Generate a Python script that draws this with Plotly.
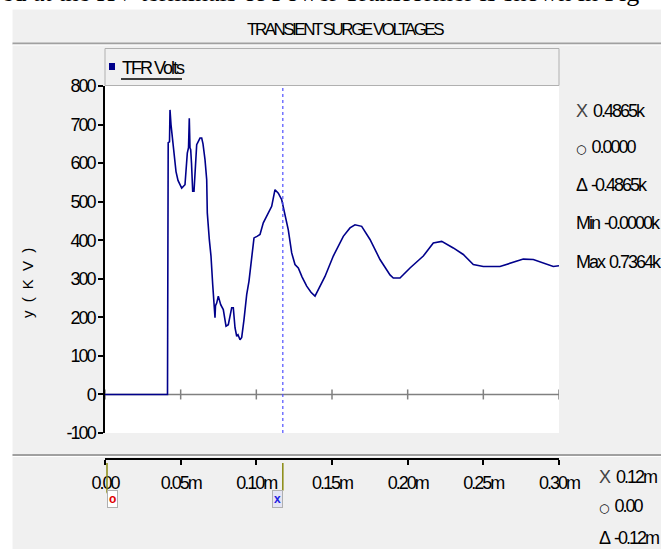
import plotly.graph_objects as go

# ---------------- data ----------------
time_ms = [0.0, 0.04130, 0.04143, 0.04176, 0.04262, 0.04295, 0.04361, 0.04407, 0.04513,
           0.04692, 0.04824, 0.05068, 0.05286, 0.05438, 0.05518, 0.05570, 0.05617, 0.05663,
           0.05716, 0.05795, 0.05881, 0.05947, 0.06059, 0.06278, 0.06390, 0.06476, 0.06608,
           0.06720, 0.06760, 0.06892, 0.07004, 0.07117, 0.07203, 0.07269, 0.07302, 0.07381,
           0.07487, 0.07645, 0.07817, 0.07996, 0.08148, 0.08372, 0.08478, 0.08590, 0.08703,
           0.08789, 0.08921, 0.09033, 0.09185, 0.09363, 0.09515, 0.09694, 0.09846, 0.10044,
           0.10242, 0.10460, 0.10791, 0.11015, 0.11233, 0.11452, 0.11676, 0.11894, 0.12112,
           0.12337, 0.12555, 0.12773, 0.13018, 0.13328, 0.13612, 0.13877, 0.14207, 0.14537,
           0.15086, 0.15747, 0.16189, 0.16520, 0.16962, 0.17511, 0.18172, 0.18833, 0.19051,
           0.19493, 0.20154, 0.21033, 0.21694, 0.22249, 0.23015, 0.23676, 0.24337, 0.24998,
           0.26101, 0.26762, 0.27641, 0.28302, 0.28963, 0.29623, 0.30]
volts_kv = [0, 0, 194, 653, 655, 738, 700, 682, 643,
            578, 555, 535, 544, 626, 640, 716, 640, 635,
            600, 527, 527, 575, 648, 665, 665, 650, 609,
            557, 471, 402, 359, 285, 237, 199, 230, 237,
            255, 233, 220, 177, 181, 225, 225, 173, 151,
            155, 142, 148, 194, 259, 294, 350, 406, 410,
            415, 445, 471, 488, 531, 522, 505, 462, 427,
            367, 337, 328, 305, 281, 265, 255, 280, 306,
            359, 410, 432, 440, 436, 402, 350, 310, 302,
            302, 328, 359, 393, 397, 380, 363, 337, 332,
            332, 341, 351, 350, 341, 332, 334]

x_tick_vals = [0.0, 0.05, 0.10, 0.15, 0.20, 0.25, 0.30]
x_tick_text = ["0.00", "0.05m", "0.10m", "0.15m", "0.20m", "0.25m", "0.30m"]
y_tick_vals = [-100, 0, 100, 200, 300, 400, 500, 600, 700, 800]
y_tick_text = ["-100", "0", "100", "200", "300", "400", "500", "600", "700", "800"]

cursor_x = 0.1175
cursor_o = 0.0
title_text = "TRANSIENT SURGE VOLTAGES"
series_name = "TFR Volts"
y_label = "y ( K V )"
readout_y_sym = ["X", "\u25cb", "\u0394", "Min", "Max"]
readout_y_val = ["0.4865k", "0.0000", "-0.4865k", "-0.0000k", "0.7364k"]
readout_x_sym = ["X", "\u25cb", "\u0394"]
readout_x_val = ["0.12m", "0.00", "-0.12m"]
doc_text = "ed at the HV terminals of Power Transformer is shown in Fig"

# ---------------- helpers ----------------
W, H = 661, 549
FONT = "Liberation Sans, Arial, sans-serif"


def px(p):
    return p / W


def py(p):
    return 1 - p / H


def tight(s, ls=-2):
    return '<span style="letter-spacing:%spx">%s</span>' % (ls, s)


def sym(s):
    if s == "\u25cb":
        return '<span style="font-family:DejaVu Sans;font-size:12px">\u25cb</span>'
    if s == "X":
        return '<span style="color:#444444">X</span>'
    return tight(s)


PANEL = "#f0f0f0"
shapes = []
annotations = []

# white document margins (top strip and left strip)
shapes.append(dict(type="rect", xref="paper", yref="paper", x0=0, x1=1, y0=py(9.5), y1=1,
                   fillcolor="white", line=dict(width=0), layer="below"))
shapes.append(dict(type="rect", xref="paper", yref="paper", x0=0, x1=px(12.5), y0=0, y1=1,
                   fillcolor="white", line=dict(width=0), layer="below"))

# separators
for yy in (43.5, 455):
    shapes.append(dict(type="line", xref="paper", yref="paper", x0=px(12.5), x1=1,
                       y0=py(yy), y1=py(yy), line=dict(color="#a0a0a0", width=2)))
    shapes.append(dict(type="line", xref="paper", yref="paper", x0=px(12.5), x1=1,
                       y0=py(yy + 1.5), y1=py(yy + 1.5), line=dict(color="#ffffff", width=1)))

# legend box
shapes.append(dict(type="rect", xref="paper", yref="paper", x0=px(105), x1=px(559),
                   y0=py(85.5), y1=py(48.5), fillcolor=PANEL,
                   line=dict(color="#b0b0b0", width=1)))
shapes.append(dict(type="rect", xref="paper", yref="paper", x0=px(109), x1=px(115),
                   y0=py(70), y1=py(63), fillcolor="#00008b", line=dict(width=0)))
shapes.append(dict(type="line", xref="paper", yref="paper", x0=px(121), x1=px(182),
                   y0=py(79), y1=py(79), line=dict(color="black", width=1.5)))
annotations.append(dict(text=tight(series_name), xref="paper", yref="paper", x=px(120), y=py(67.5),
                        xanchor="left", yanchor="middle", showarrow=False,
                        font=dict(family=FONT, size=18, color="black")))

# zero reference line with ticks
shapes.append(dict(type="line", xref="x", yref="y", x0=0, x1=0.3, y0=0, y1=0,
                   line=dict(color="#808080", width=1.5), layer="below"))
for tv in x_tick_vals:
    shapes.append(dict(type="line", xref="x", yref="y", x0=tv, x1=tv, y0=-13, y1=13,
                       line=dict(color="#808080", width=1.5), layer="below"))

# cursor dotted line
shapes.append(dict(type="line", xref="x", yref="y", x0=cursor_x, x1=cursor_x, y0=-100, y1=800,
                   line=dict(color="#5050ff", width=1.2, dash="dot")))

# cursor markers below the x axis
OLIVE = "#8a8a10"
shapes.append(dict(type="path", xref="x", yref="paper", xsizemode="pixel", xanchor=cursor_o,
                   path="M 2 %f L 2 %f Q 3 %f 12 %f" % (py(463), py(492), py(498), py(498)),
                   line=dict(color=OLIVE, width=1.5)))
shapes.append(dict(type="path", xref="x", yref="paper", xsizemode="pixel", xanchor=cursor_x,
                   path="M 0 %f L 0 %f L -7 %f" % (py(463), py(490), py(498)),
                   line=dict(color=OLIVE, width=1.5)))
annotations.append(dict(text="<b>o</b>", xref="x", yref="paper", x=cursor_o, y=py(508),
                        xshift=7, showarrow=False, bgcolor="white", bordercolor="#b0b0b0",
                        borderwidth=1, borderpad=1,
                        font=dict(family="Liberation Sans", size=12, color="#e00000")))
annotations.append(dict(text="<b>x</b>", xref="x", yref="paper", x=cursor_x, y=py(508),
                        xshift=-5, showarrow=False, bgcolor="#e4e4f4", bordercolor="#b0b0b0",
                        borderwidth=1, borderpad=1,
                        font=dict(family="Liberation Sans", size=12, color="#2020e0")))

# title
annotations.append(dict(text=tight(title_text, -2.5), xref="paper", yref="paper", x=px(345), y=py(29.5),
                        xanchor="center", yanchor="middle", showarrow=False,
                        font=dict(family=FONT, size=17, color="black")))
# y label
annotations.append(dict(text=tight(y_label, 2), xref="paper", yref="paper", x=px(27), y=py(282),
                        xanchor="center", yanchor="middle", textangle=-90, showarrow=False,
                        font=dict(family=FONT, size=15, color="black")))
# readouts
for s, v, yy in zip(readout_y_sym, readout_y_val, [111, 147, 185, 223, 262]):
    annotations.append(dict(text=sym(s) + " " + tight(v), xref="paper", yref="paper",
                            x=px(574), y=py(yy), xanchor="left", yanchor="middle",
                            showarrow=False, font=dict(family=FONT, size=18, color="black")))
for s, v, yy in zip(readout_x_sym, readout_x_val, [477, 506, 538]):
    annotations.append(dict(text=sym(s) + " " + tight(v), xref="paper", yref="paper",
                            x=px(597), y=py(yy), xanchor="left", yanchor="middle",
                            showarrow=False, font=dict(family=FONT, size=18, color="black")))
# cut-off document text at the very top
annotations.append(dict(text=doc_text, xref="paper", yref="paper", x=0, y=py(8.5),
                        xanchor="left", yanchor="bottom", showarrow=False,
                        font=dict(family="Liberation Serif", size=26, color="black")))

fig = go.Figure()
fig.add_trace(go.Scatter(x=time_ms, y=volts_kv, mode="lines", name=series_name,
                         line=dict(color="#00008b", width=1.6), showlegend=False))

fig.update_layout(
    width=W, height=H, autosize=False,
    margin=dict(l=0, r=0, t=0, b=0, pad=0),
    paper_bgcolor=PANEL, plot_bgcolor="white",
    showlegend=False,
    shapes=shapes, annotations=annotations,
    xaxis=dict(domain=[px(105), px(559)], range=[0, 0.3], anchor="free", position=py(459),
               automargin=False,
               showline=True, linecolor="black", linewidth=1.5, ticks="outside", ticklen=5,
               tickcolor="black", tickwidth=1.5, tickvals=x_tick_vals,
               ticktext=[tight(t) for t in x_tick_text], ticklabelstandoff=3,
               tickfont=dict(family=FONT, size=18, color="black"), showgrid=False,
               zeroline=False, fixedrange=True),
    yaxis=dict(domain=[py(433), py(86)], range=[-100, 800], anchor="x",
               automargin=False,
               showline=True, linecolor="black", linewidth=1.5, ticks="outside", ticklen=5,
               tickcolor="black", tickwidth=1.5, tickvals=y_tick_vals,
               ticktext=[tight(t) for t in y_tick_text],
               tickfont=dict(family=FONT, size=18, color="black"), showgrid=False,
               zeroline=False, fixedrange=True),
)

fig.write_html("out.html")
